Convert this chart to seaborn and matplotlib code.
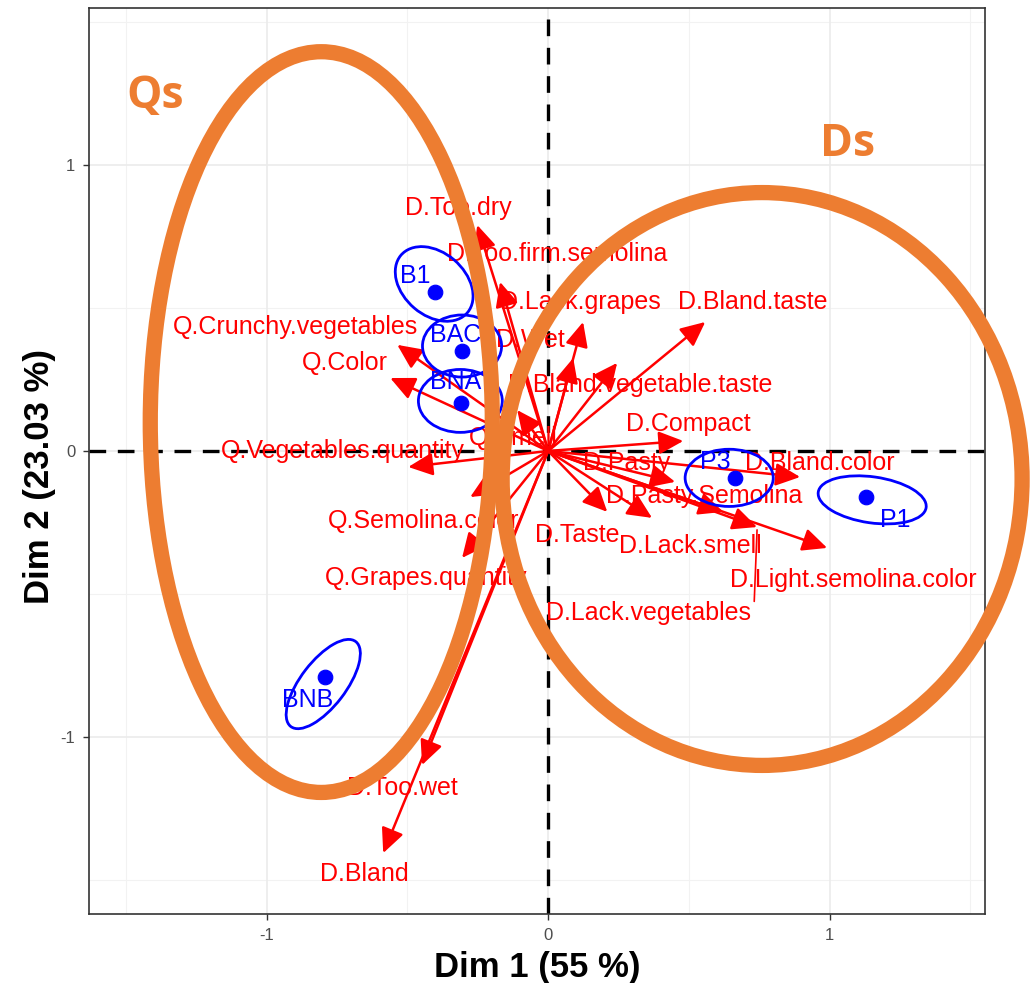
import numpy as np
import pandas as pd
import seaborn as sns
import matplotlib.pyplot as plt
from matplotlib.patches import Ellipse, FancyArrowPatch

# variables (arrow tips) and where their labels sit
var_names = ['D.Too.dry', 'D.Too.firm.semolina', 'D.Lack.grapes', 'D.Bland.taste',
             'D.Wet', 'D.Bland.vegetable.taste', 'Q.Smell', 'Q.Crunchy.vegetables',
             'Q.Color', 'Q.Vegetables.quantity', 'Q.Semolina.color', 'Q.Grapes.quantity',
             'D.Too.wet', 'D.Bland', 'D.Compact', 'D.Pasty', 'D.Bland.color',
             'D.Pasty.Semolina', 'D.Taste', 'D.Lack.smell', 'D.Light.semolina.color',
             'D.Lack.vegetables']
var_x = [-0.252, -0.171, 0.124, 0.558, 0.089, 0.245, -0.110, -0.536, -0.561, -0.497,
         -0.277, -0.306, -0.448, -0.586, 0.480, 0.451, 0.895, 0.369, 0.210, 0.622,
         0.991, 0.742]
var_y = [0.790, 0.591, 0.451, 0.451, 0.325, 0.308, 0.143, 0.371, 0.255, -0.056,
         -0.161, -0.374, -1.098, -1.406, 0.035, -0.108, -0.091, -0.234, -0.213, -0.213,
         -0.339, -0.266]
var_lab_x = [-0.320, 0.032, 0.114, 0.725, -0.064, 0.327, -0.124, -0.899, -0.721, -0.728,
             -0.444, -0.433, -0.519, -0.654, 0.497, 0.277, 0.966, 0.554, 0.103, 0.504,
             1.083, 0.355]
var_lab_y = [0.850, 0.689, 0.521, 0.521, 0.388, 0.231, 0.045, 0.434, 0.308, 0.0,
             -0.245, -0.444, -1.178, -1.479, 0.094, -0.042, -0.042, -0.157, -0.294, -0.332,
             -0.451, -0.566]

# products (individuals) with their confidence ellipses
prod_names = ['B1', 'BAC', 'BNA', 'BNB', 'P3', 'P1']
prod_x = [-0.401, -0.306, -0.309, -0.792, 0.664, 1.130]
prod_y = [0.556, 0.350, 0.168, -0.790, -0.094, -0.161]
prod_lab_x = [-0.472, -0.330, -0.330, -0.856, 0.593, 1.233]
prod_lab_y = [0.612, 0.406, 0.241, -0.871, -0.038, -0.241]
ell_x = [-0.405, -0.306, -0.312, -0.799, 0.643, 1.151]
ell_y = [0.584, 0.367, 0.175, -0.815, -0.094, -0.171]
ell_w = [0.310, 0.281, 0.298, 0.376, 0.313, 0.387]
ell_h = [0.220, 0.217, 0.220, 0.160, 0.200, 0.161]
ell_angle = [-40, 0, 0, 52, 0, -8]

# hand drawn group ellipses
group_names = ['Qs', 'Ds']
group_x = [-0.806, 0.760]
group_y = [0.101, -0.098]
group_w = [1.215, 1.847]
group_h = [2.590, 2.003]
group_lab_x = [-1.396, 1.062]
group_lab_y = [1.238, 1.070]

red = '#FF0000'
blue = '#0000FF'
orange = '#ED7D31'

sns.set_theme(style='white')
plt.rcParams['font.family'] = ['Liberation Sans', 'DejaVu Sans']

fig = plt.figure(figsize=(10.33, 9.83), dpi=100)
ax = fig.add_axes([0.0862, 0.0702, 0.8674, 0.9217])
ax.set_xlim(-1.631, 1.552)
ax.set_ylim(-1.619, 1.549)

# grid like theme_bw
for v in [-1.5, -0.5, 0.5, 1.5]:
    ax.axvline(v, color='#F2F2F2', lw=0.8, zorder=0)
    ax.axhline(v, color='#F2F2F2', lw=0.8, zorder=0)
for v in [-1, 0, 1]:
    ax.axvline(v, color='#EBEBEB', lw=1.2, zorder=0)
    ax.axhline(v, color='#EBEBEB', lw=1.2, zorder=0)

ax.axvline(0, color='black', lw=2.4, ls=(0, (5, 3.5)), zorder=1)
ax.axhline(0, color='black', lw=2.4, ls=(0, (5, 3.5)), zorder=1)

# variable arrows
for i in range(len(var_names)):
    arr = FancyArrowPatch((0, 0), (var_x[i], var_y[i]),
                          arrowstyle='-|>,head_length=15,head_width=7',
                          mutation_scale=1, color=red, lw=1.8,
                          shrinkA=0, shrinkB=0, zorder=3)
    ax.add_patch(arr)
    ax.text(var_lab_x[i], var_lab_y[i], var_names[i], color=red, fontsize=18,
            ha='center', va='center', zorder=4)

# connector for the repelled label
ax.plot([var_x[-1], var_x[-1] - 0.01], [var_y[-1] - 0.01, var_lab_y[-1] + 0.04],
        color=red, lw=1.2, zorder=3)

# products
df = pd.DataFrame({'x': prod_x, 'y': prod_y, 'name': prod_names})
sns.scatterplot(data=df, x='x', y='y', color=blue, s=110, edgecolor=blue,
                ax=ax, zorder=5, legend=False)
for i in range(len(prod_names)):
    ax.add_patch(Ellipse((ell_x[i], ell_y[i]), ell_w[i], ell_h[i], angle=ell_angle[i],
                         fill=False, edgecolor=blue, lw=2, zorder=5))
    ax.text(prod_lab_x[i], prod_lab_y[i], prod_names[i], color=blue, fontsize=18,
            ha='center', va='center', zorder=5)

# group ellipses on top
for i in range(len(group_names)):
    ax.add_patch(Ellipse((group_x[i], group_y[i]), group_w[i], group_h[i],
                         fill=False, edgecolor=orange, lw=11, zorder=10, clip_on=False))
    ax.text(group_lab_x[i], group_lab_y[i], group_names[i], color=orange,
            fontsize=32, fontweight='bold', family=['Open Sans', 'DejaVu Sans'],
            ha='center', va='center', zorder=10)

ax.set_xticks([-1, 0, 1])
ax.set_yticks([-1, 0, 1])
ax.set_xticklabels(['-1', '0', '1'])
ax.set_yticklabels(['-1', '0', '1'])
ax.tick_params(axis='both', which='both', direction='out', length=4, width=1,
               color='#333333', labelcolor='#4D4D4D', labelsize=12, pad=6,
               bottom=True, left=True)
for s in ax.spines.values():
    s.set_color('#333333')
    s.set_linewidth(1.2)

lab_font = dict(family=['Liberation Sans', 'DejaVu Sans'], fontsize=25,
                fontweight='bold', color='black')
ax.set_xlabel('Dim 1 (55 %)', labelpad=6, **lab_font)
ax.set_ylabel('Dim 2 (23.03 %)', **lab_font)
ax.yaxis.set_label_coords(-0.037, 0.483)
ax.set_facecolor('white')

fig.savefig('out.png', dpi=100, facecolor='white')
